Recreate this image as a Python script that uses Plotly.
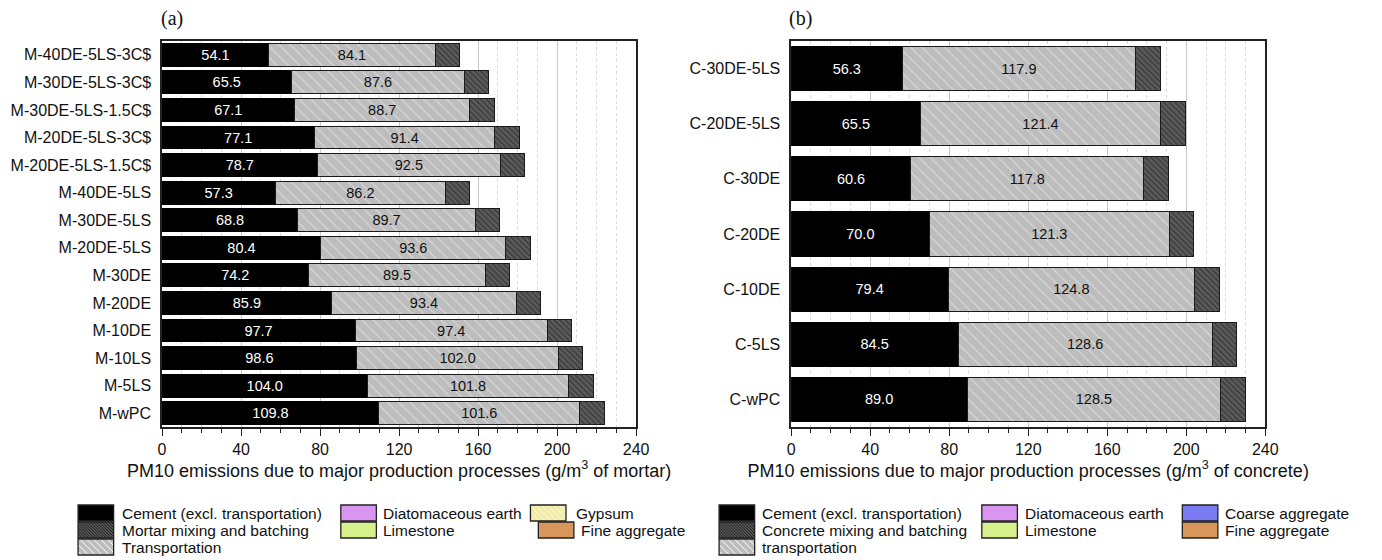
import plotly.graph_objects as go

# ---------------- data ----------------
mortar_cats = ["M-40DE-5LS-3C$", "M-30DE-5LS-3C$", "M-30DE-5LS-1.5C$", "M-20DE-5LS-3C$",
               "M-20DE-5LS-1.5C$", "M-40DE-5LS", "M-30DE-5LS", "M-20DE-5LS", "M-30DE",
               "M-20DE", "M-10DE", "M-10LS", "M-5LS", "M-wPC"]
mortar_cement = [54.1, 65.5, 67.1, 77.1, 78.7, 57.3, 68.8, 80.4, 74.2, 85.9, 97.7, 98.6, 104.0, 109.8]
mortar_transport = [84.1, 87.6, 88.7, 91.4, 92.5, 86.2, 89.7, 93.6, 89.5, 93.4, 97.4, 102.0, 101.8, 101.6]
mortar_mixing = [12.4, 12.4, 12.4, 12.4, 12.4, 12.4, 12.4, 12.4, 12.4, 12.4, 12.4, 12.4, 12.4, 12.4]

concrete_cats = ["C-30DE-5LS", "C-20DE-5LS", "C-30DE", "C-20DE", "C-10DE", "C-5LS", "C-wPC"]
concrete_cement = [56.3, 65.5, 60.6, 70.0, 79.4, 84.5, 89.0]
concrete_transport = [117.9, 121.4, 117.8, 121.3, 124.8, 128.6, 128.5]
concrete_mixing = [12.5, 12.5, 12.5, 12.5, 12.5, 12.5, 12.5]

x_ticks = [0, 40, 80, 120, 160, 200, 240]

legend_a = [["Cement (excl. transportation)", "Mortar mixing and batching", "Transportation"],
            ["Diatomaceous earth", "Limestone"],
            ["Gypsum", "Fine aggregate"]]
legend_b = [["Cement (excl. transportation)", "Concrete mixing and batching", "transportation"],
            ["Diatomaceous earth", "Limestone"],
            ["Coarse aggregate", "Fine aggregate"]]

# ---------------- styles ----------------
W, H = 1382, 560
FONT = "Liberation Sans, Arial, sans-serif"
CEMENT = "#000000"
TRANS_BG, TRANS_FG = "#bdbdbd", "#ffffff"
MIX_BG, MIX_FG = "#5c5c5c", "#161616"

def px(x):
    return x / W

def py(y):
    return 1 - y / H

fig = go.Figure()

def add_panel(cats, cement, transport, mixing, xa, ya, width):
    common = dict(y=cats, orientation="h", xaxis=xa, yaxis=ya, width=width,
                  showlegend=False, hoverinfo="x+y")
    fig.add_trace(go.Bar(x=cement, marker=dict(color=CEMENT, line=dict(color="black", width=1)),
                         texttemplate="%{x:.1f}", textposition="inside", insidetextanchor="middle",
                         textangle=0, textfont=dict(color="white", size=14.5, family=FONT),
                         constraintext="none", **common))
    fig.add_trace(go.Bar(x=transport,
                         marker=dict(color=TRANS_BG, line=dict(color="#1a1a1a", width=1),
                                     pattern=dict(shape="\\", fgcolor=TRANS_FG, bgcolor=TRANS_BG,
                                                  size=8, solidity=0.12)),
                         texttemplate="%{x:.1f}", textposition="inside", insidetextanchor="middle",
                         textangle=0, textfont=dict(color="#111111", size=14.5, family=FONT),
                         constraintext="none", **common))
    fig.add_trace(go.Bar(x=mixing,
                         marker=dict(color=MIX_BG, line=dict(color="#1a1a1a", width=1),
                                     pattern=dict(shape="\\", fgcolor=MIX_FG, bgcolor=MIX_BG,
                                                  size=4, solidity=0.35)),
                         textposition="none", **common))

add_panel(mortar_cats, mortar_cement, mortar_transport, mortar_mixing, "x", "y", 0.83)
add_panel(concrete_cats, concrete_cement, concrete_transport, concrete_mixing, "x2", "y2", 0.8)

xa_common = dict(range=[0, 240], tickvals=x_ticks, ticks="outside", ticklen=7, tickwidth=1.3,
                 tickcolor="#222", showline=True, linecolor="#222", linewidth=1.5, mirror=True,
                 showgrid=True, gridcolor="#c9c9c9", gridwidth=1, zeroline=False,
                 tickfont=dict(size=16, family=FONT, color="#111"),
                 minor=dict(dtick=10, ticks="outside", ticklen=4, tickcolor="#222", tickwidth=1,
                            showgrid=True, gridcolor="#dadada", griddash="dot", gridwidth=1),
                 title=dict(font=dict(size=18, family=FONT, color="#111"), standoff=6))
ya_common = dict(autorange="reversed", showline=True, linecolor="#222", linewidth=1.5, mirror=True,
                 ticks="", showgrid=False, ticklabelstandoff=6,
                 tickfont=dict(size=16, family=FONT, color="#111"))

fig.update_layout(
    width=W, height=H, margin=dict(l=0, r=0, t=0, b=0),
    paper_bgcolor="white", plot_bgcolor="white", barmode="stack",
    font=dict(family=FONT, color="#111"),
    xaxis=dict(domain=[px(160), px(640)], anchor="y",
               **{**xa_common, "title": dict(xa_common["title"],
                  text="PM10 emissions due to major production processes (g/m<sup>3</sup> of mortar)")}),
    yaxis=dict(domain=[py(427), py(41)], anchor="x", categoryorder="array",
               categoryarray=mortar_cats, **ya_common),
    xaxis2=dict(domain=[px(797), px(1277)], anchor="y2",
                **{**xa_common, "title": dict(xa_common["title"],
                   text="PM10 emissions due to major production processes (g/m<sup>3</sup> of concrete)")}),
    yaxis2=dict(domain=[py(427), py(41)], anchor="x2", categoryorder="array",
                categoryarray=concrete_cats, **ya_common),
)

# panel labels
for txt, xpos in [("(a)", 170), ("(b)", 806)]:
    fig.add_annotation(text=txt, x=px(xpos), y=py(18), xref="paper", yref="paper",
                       showarrow=False, xanchor="center", yanchor="middle",
                       font=dict(family="Liberation Serif, Times New Roman, serif", size=20, color="#111"))

# ---------------- manual legends ----------------
shapes = []

def hatch_path(x0, y0, x1, y1, step):
    segs = []
    c = (x0 - y1) + step / 2
    while c < x1 - y0:
        xs = max(x0, y0 + c)
        xe = min(x1, y1 + c)
        if xe > xs:
            segs.append(f"M{px(xs):.5f},{py(xs - c):.5f} L{px(xe):.5f},{py(xe - c):.5f}")
        c += step
    return " ".join(segs)

def swatch(x0, yc, fill, hatch=None):
    x1, y0, y1 = x0 + 36, yc - 8, yc + 8
    shapes.append(dict(type="rect", xref="paper", yref="paper", x0=px(x0), x1=px(x1),
                       y0=py(y1), y1=py(y0), fillcolor=fill, line=dict(width=0), layer="above"))
    if hatch:
        shapes.append(dict(type="path", xref="paper", yref="paper",
                           path=hatch_path(x0, y0, x1, y1, hatch[1]),
                           line=dict(color=hatch[0], width=hatch[2]), layer="above"))
    shapes.append(dict(type="rect", xref="paper", yref="paper", x0=px(x0), x1=px(x1),
                       y0=py(y1), y1=py(y0), fillcolor="rgba(0,0,0,0)",
                       line=dict(color="#222", width=1.3), layer="above"))

def label(x, yc, text):
    fig.add_annotation(text=text, x=px(x), y=py(yc), xref="paper", yref="paper", showarrow=False,
                       xanchor="left", yanchor="middle", font=dict(size=15.5, family=FONT, color="#111"))

rows = [513, 530, 547]
styles = {
    "Cement (excl. transportation)": (CEMENT, None),
    "Mortar mixing and batching": (MIX_BG, (MIX_FG, 3, 1)),
    "Concrete mixing and batching": (MIX_BG, (MIX_FG, 3, 1)),
    "Transportation": (TRANS_BG, (TRANS_FG, 7, 1)),
    "transportation": (TRANS_BG, (TRANS_FG, 7, 1)),
    "Diatomaceous earth": ("#d896f2", None),
    "Limestone": ("#d6f08c", None),
    "Gypsum": ("#f1eea4", ("#fbfbe0", 6, 1)),
    "Fine aggregate": ("#d8965a", None),
    "Coarse aggregate": ("#7a7af2", None),
}

cols_a = [[(75, 117)] * 3, [(341, 382)] * 2, [(533, 577), (541, 582)]]
cols_b = [[(724, 765)] * 3, [(990, 1032)] * 2, [(1193, 1234), (1193, 1234)]]

for legend, cols in [(legend_a, cols_a), (legend_b, cols_b)]:
    for col_items, col_pos in zip(legend, cols):
        for i, (name, (sx, tx)) in enumerate(zip(col_items, col_pos)):
            fill, hatch = styles[name]
            swatch(sx, rows[i], fill, hatch)
            label(tx, rows[i], name)

fig.update_layout(shapes=shapes)
fig.write_html("out.html")
